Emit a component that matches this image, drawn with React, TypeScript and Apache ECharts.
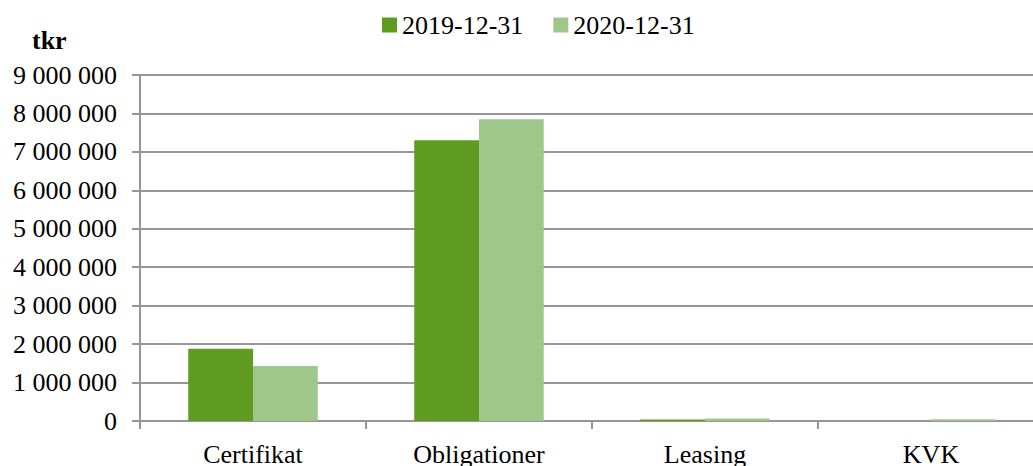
import React, { useEffect, useRef } from "react";
import * as echarts from "echarts";

const categories = ["Certifikat", "Obligationer", "Leasing", "KVK"];
const seriesNames = ["2019-12-31", "2020-12-31"];
const values2019 = [1880000, 7300000, 40000, 0];
const values2020 = [1430000, 7850000, 65000, 45000];
const yMax = 9000000;
const yInterval = 1000000;
const unitLabel = "tkr";

const DARK = "#5e9b20";
const LIGHT = "#a0c78a";
const GRID = "#969696";
const FONT = "Liberation Serif, Times New Roman, serif";

function fmt(v: number): string {
  return String(Math.round(v)).replace(/\B(?=(\d{3})+(?!\d))/g, " ");
}

export default function App() {
  const ref = useRef<HTMLDivElement>(null);
  useEffect(() => {
    if (!ref.current) return;
    const chart = echarts.init(ref.current, null, { renderer: "svg" });
    chart.setOption({
      animation: false,
      backgroundColor: "#ffffff",
      textStyle: { fontFamily: FONT },
      legend: {
        left: 382,
        top: 12,
        padding: 0,
        itemWidth: 15,
        itemHeight: 15,
        itemGap: 30,
        icon: "rect",
        textStyle: { fontFamily: FONT, fontSize: 26, color: "#000" },
        data: seriesNames,
      },
      graphic: [
        {
          type: "text",
          left: 32,
          top: 27,
          style: {
            text: unitLabel,
            fontFamily: FONT,
            fontSize: 26,
            fontWeight: "bold",
            fill: "#000",
          },
        },
      ],
      grid: {
        left: 140,
        right: -11,
        top: 75,
        bottom: 45,
        outerBoundsMode: "none",
        containLabel: false,
      },
      xAxis: {
        type: "category",
        data: categories,
        axisLine: { show: true, lineStyle: { color: GRID, width: 2 } },
        axisTick: { show: true, length: 8, alignWithLabel: false, lineStyle: { color: GRID, width: 2 } },
        axisLabel: { color: "#000", fontSize: 26, fontFamily: FONT, margin: 20 },
        splitLine: { show: false },
      },
      yAxis: {
        type: "value",
        min: 0,
        max: yMax,
        interval: yInterval,
        axisLine: { show: true, lineStyle: { color: GRID, width: 2 } },
        axisTick: { show: true, length: 8, lineStyle: { color: GRID, width: 2 } },
        axisLabel: { color: "#000", fontSize: 26, fontFamily: FONT, margin: 23, formatter: fmt },
        splitLine: { show: true, lineStyle: { color: GRID, width: 2 } },
      },
      series: [
        {
          name: seriesNames[0],
          type: "bar",
          data: values2019,
          itemStyle: { color: DARK },
          barGap: "0%",
          barCategoryGap: "42.7%",
        },
        {
          name: seriesNames[1],
          type: "bar",
          data: values2020,
          itemStyle: { color: LIGHT },
          barGap: "0%",
          barCategoryGap: "42.7%",
        },
      ],
    });
    return () => chart.dispose();
  }, []);
  return (
    <div
      ref={ref}
      style={{ position: "absolute", left: 0, top: 0, width: 1033, height: 466 }}
    />
  );
}
